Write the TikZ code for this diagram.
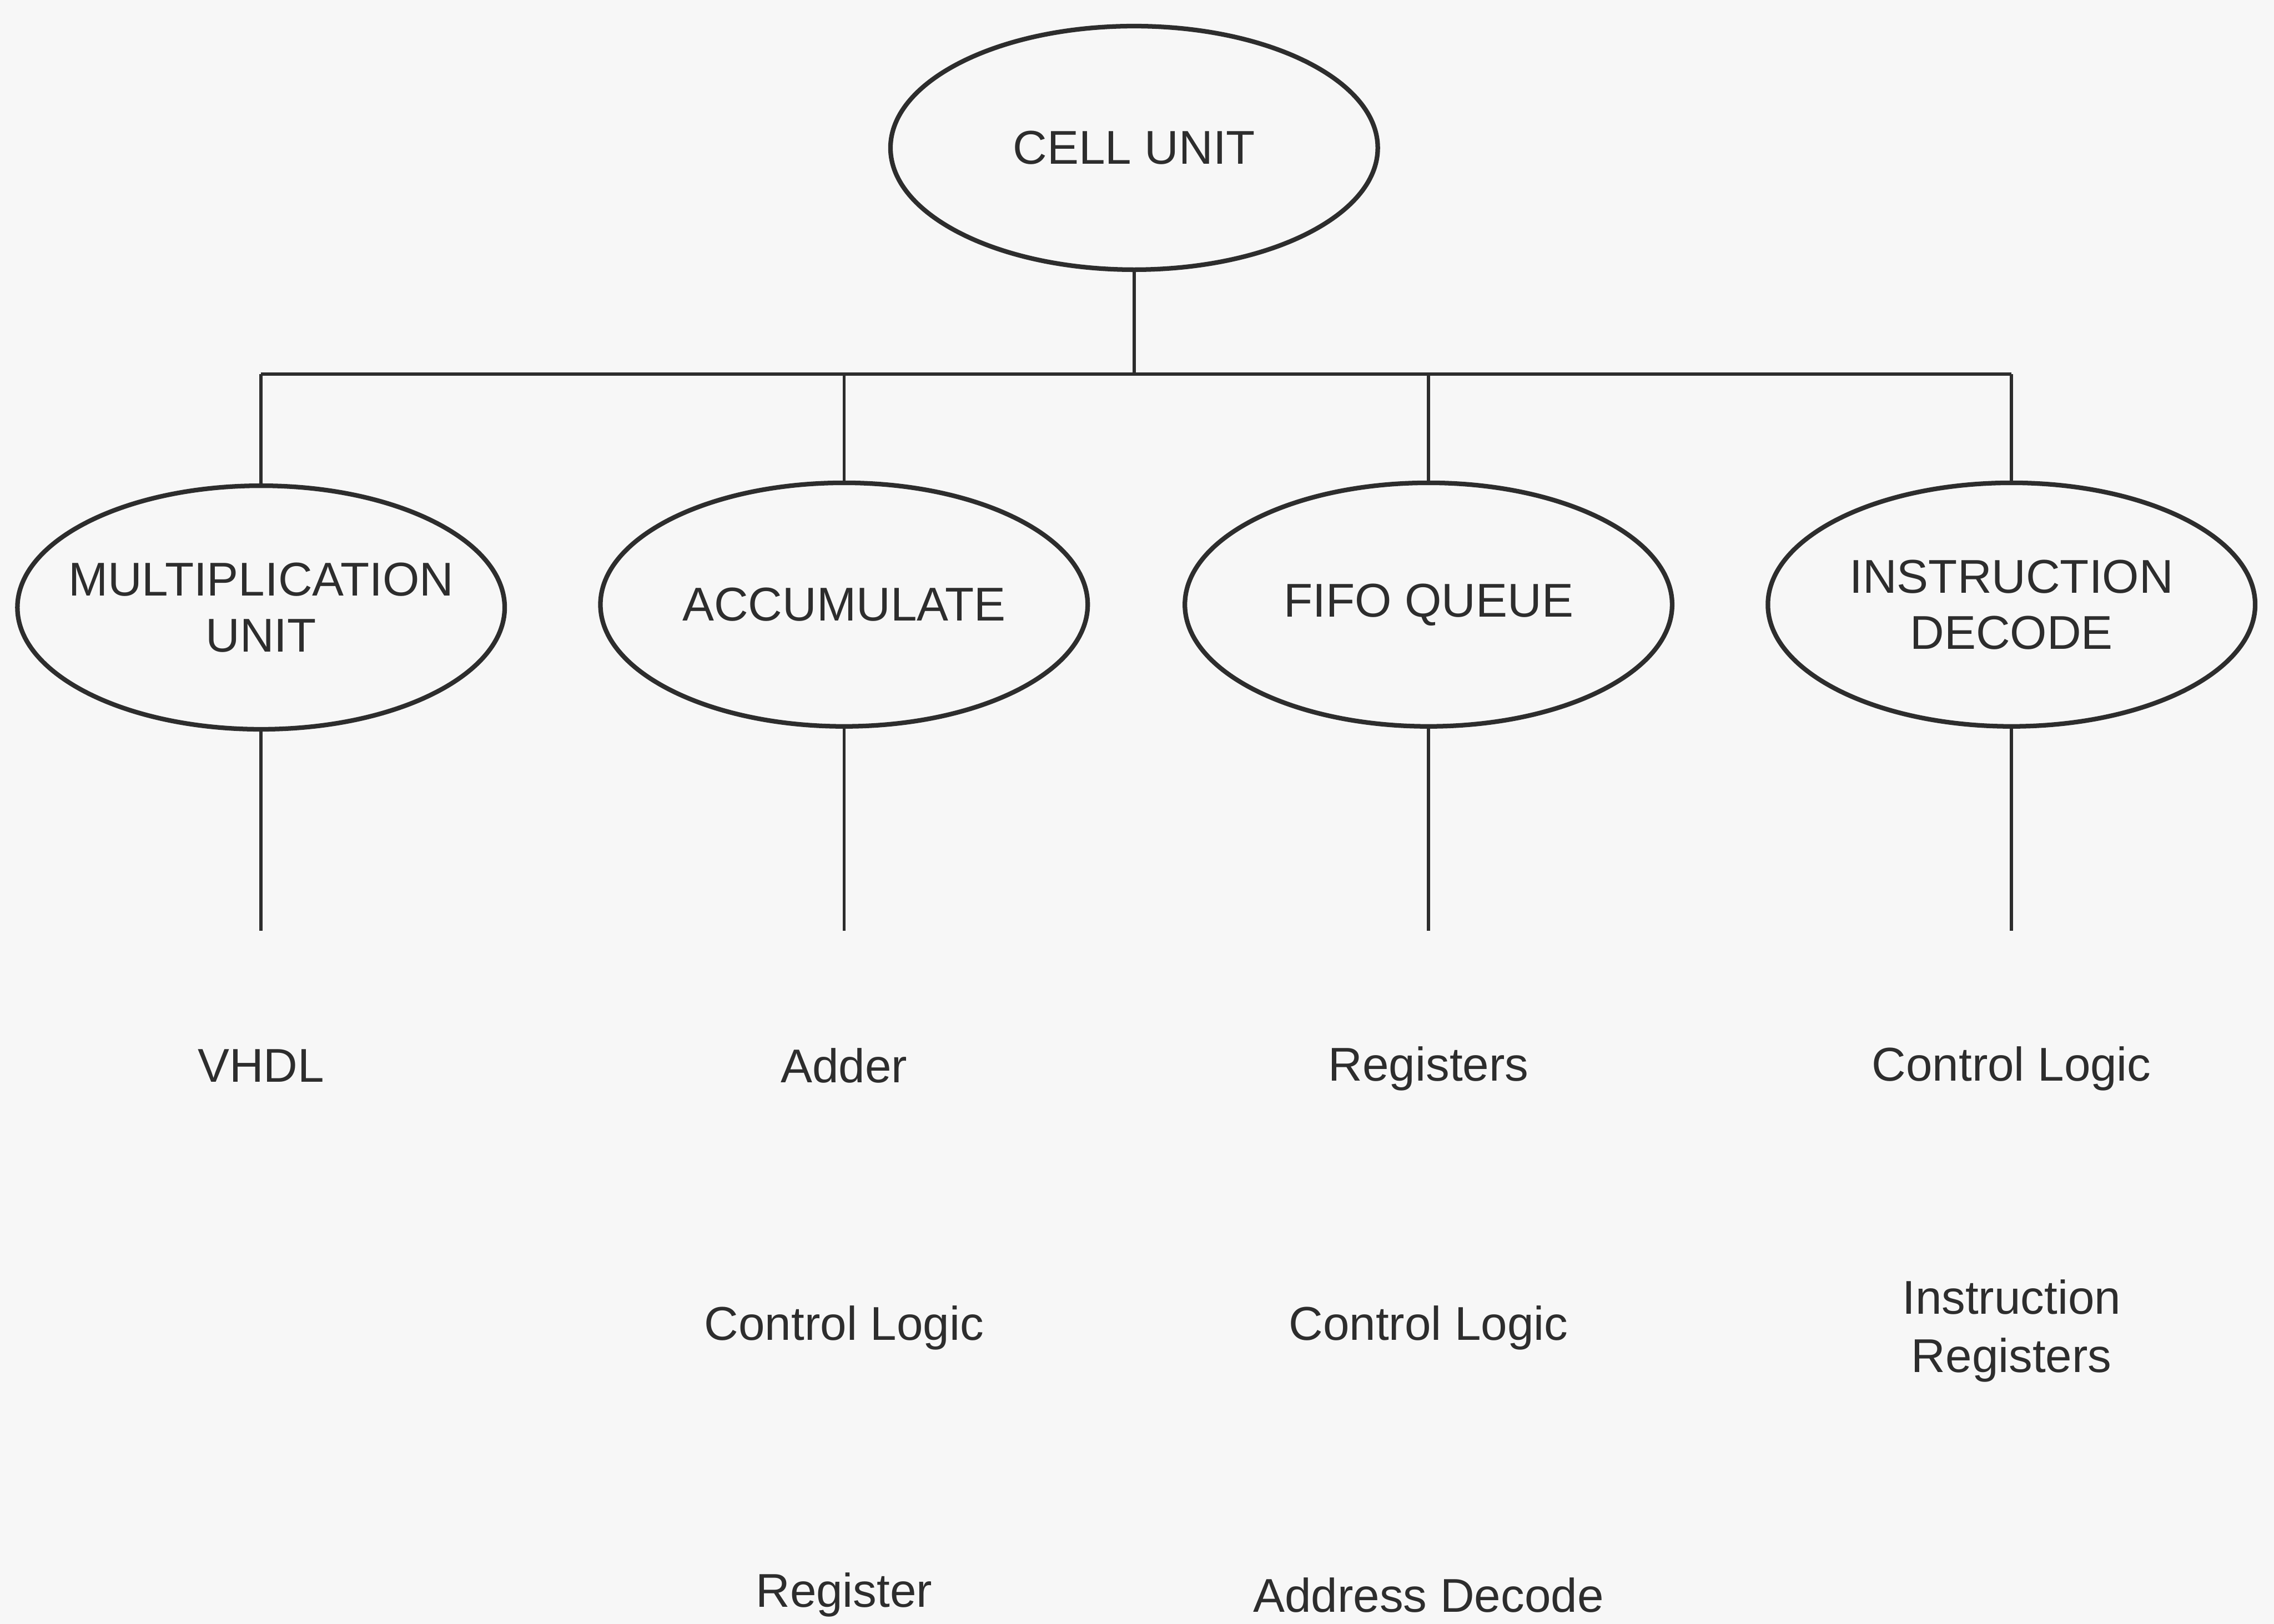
\documentclass[tikz,border=0pt]{standalone}
\usepackage{fontspec}
\setmainfont{Liberation Sans}
\usepackage{tikz}
\usetikzlibrary{shapes.geometric, positioning, calc}
\definecolor{inkgray}{RGB}{45, 45, 45}
\definecolor{paper}{RGB}{247, 247, 247}

\begin{document}
\begin{tikzpicture}[
    unitbox/.style={ellipse, draw=inkgray, line width=0.9pt,
        minimum width=3.36cm, minimum height=1.68cm,
        inner xsep=-0.3cm, inner ysep=0pt, align=center, text=inkgray,
        font=\fontsize{9.3}{11}\selectfont},
    parttext/.style={align=center, text=inkgray, inner sep=1pt,
        font=\fontsize{9.3}{11.5}\selectfont},
    link/.style={draw=inkgray, line width=0.6pt},
]

% ── PAGE ────────────────────────────────────────────────────────────────────
\fill[paper] (0,0) rectangle (15.68,-11.2);
\useasboundingbox (0,0) rectangle (15.68,-11.2);

% ── TOP UNIT ────────────────────────────────────────────────────────────────
\node[unitbox] at (7.82, -1.02) (cell) {CELL UNIT};

% ── SUB UNITS ───────────────────────────────────────────────────────────────
\node[unitbox] at (1.80,  -4.19) (mult) {MULTIPLICATION\\UNIT};
\node[unitbox] at (5.82,  -4.17) (accu) {ACCUMULATE};
\node[unitbox] at (9.85,  -4.17) (fifo) {FIFO QUEUE};
\node[unitbox] at (13.87, -4.17) (inst) {INSTRUCTION\\DECODE};

% bus between the levels
\coordinate (busL) at (1.80,  -2.58);
\coordinate (busR) at (13.87, -2.58);

\draw[link] (cell.south) -- (cell.south |- busL);
\draw[link] (busL) -- (busR);
\draw[link] (busL) -- (mult.north);
\draw[link] (accu.north |- busL) -- (accu.north);
\draw[link] (fifo.north |- busL) -- (fifo.north);
\draw[link] (busR) -- (inst.north);

% ── LEAF STEMS ──────────────────────────────────────────────────────────────
\coordinate (multend) at (1.80,  -6.42);
\coordinate (accuend) at (5.82,  -6.42);
\coordinate (fifoend) at (9.85,  -6.42);
\coordinate (instend) at (13.87, -6.42);

\draw[link] (mult.south) -- (multend);
\draw[link] (accu.south) -- (accuend);
\draw[link] (fifo.south) -- (fifoend);
\draw[link] (inst.south) -- (instend);

% ── PARTS ───────────────────────────────────────────────────────────────────
\node[parttext] at (1.80,  -7.35) (m1) {VHDL};

\node[parttext] at (5.82,  -7.35) (a1) {Adder};
\node[parttext] at (5.82,  -9.16) (a2) {Control Logic};
\node[parttext] at (5.82, -11.00) (a3) {Register};

\node[parttext] at (9.85,  -7.37) (f1) {Registers};
\node[parttext] at (9.85,  -9.16) (f2) {Control Logic};
\node[parttext] at (9.85, -11.00) (f3) {Address Decode};

\node[parttext] at (13.87, -7.37) (i1) {Control Logic};
\node[parttext] at (13.87, -9.18) (i2) {Instruction\\Registers};

\end{tikzpicture}
\end{document}
